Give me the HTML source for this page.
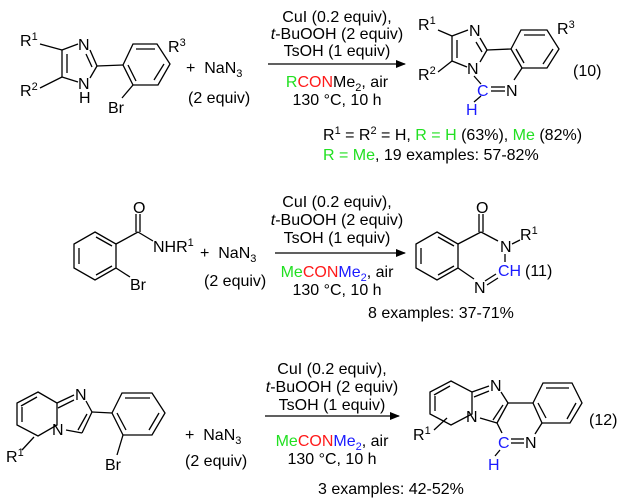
<!DOCTYPE html>
<html><head><style>
body{margin:0;background:#fff;}
svg{display:block;font-family:"Liberation Sans",Arial,sans-serif;}
text{font-size:16px;fill:#000;}
.s{font-size:11px;}
line,polyline,polygon{stroke:#000;stroke-width:1.3;fill:none;}
.g{fill:#22e022;} .r{fill:#ff1a1a;} .b{fill:#1a1aff;}
</style></head><body>
<svg width="630" height="498" viewBox="0 0 630 498">
<defs><marker id="a" markerWidth="10" markerHeight="8" refX="9" refY="4" orient="auto" markerUnits="userSpaceOnUse"><path d="M0,0 L10,4 L0,8 z" fill="#000"/></marker></defs>

<!-- ===== Reaction 10 ===== -->
<text x="20" y="46">R<tspan class="s" dy="-6">1</tspan></text>
<text x="20" y="96">R<tspan class="s" dy="-6">2</tspan></text>
<line x1="40" y1="44" x2="62" y2="50"/>
<line x1="40" y1="88" x2="62" y2="77"/>
<line x1="62" y1="50" x2="62" y2="77"/><line x1="67" y1="54" x2="67" y2="73"/>
<line x1="62" y1="50" x2="78" y2="44"/>
<text x="78" y="50">N</text>
<line x1="90" y1="50" x2="97" y2="66"/><line x1="86" y1="54" x2="92" y2="67"/>
<line x1="97" y1="66" x2="90" y2="78"/>
<line x1="62" y1="77" x2="78" y2="82"/>
<text x="78" y="89">N</text><text x="79" y="103">H</text>
<line x1="97" y1="66" x2="123" y2="65"/>
<polygon points="123,65 133,44 157,44 170,64 158,85 133,85"/>
<line x1="136" y1="49" x2="155" y2="49"/><line x1="164" y1="64" x2="154" y2="80"/>
<line x1="128" y1="65" x2="136" y2="81"/>
<line x1="133" y1="85" x2="122" y2="98"/>
<text x="108" y="113">Br</text>
<text x="168" y="52">R<tspan class="s" dy="-6">3</tspan></text>
<text x="186" y="73">+&#160;&#160;NaN<tspan class="s" dy="4">3</tspan></text>
<text x="188" y="103">(2 equiv)</text>
<text x="337" y="22" text-anchor="middle">CuI (0.2 equiv),</text>
<text x="337" y="39" text-anchor="middle"><tspan font-style="italic">t</tspan>-BuOOH (2 equiv)</text>
<text x="337" y="56" text-anchor="middle">TsOH (1 equiv)</text>
<line x1="268" y1="64" x2="405" y2="64" marker-end="url(#a)"/>
<text x="337" y="87" text-anchor="middle"><tspan class="g">R</tspan><tspan class="r">CON</tspan>Me<tspan class="s" dy="4">2</tspan><tspan dy="-4">, air</tspan></text>
<text x="337" y="105" text-anchor="middle">130 °C, 10 h</text>

<text x="418" y="30">R<tspan class="s" dy="-6">1</tspan></text>
<text x="418" y="80">R<tspan class="s" dy="-6">2</tspan></text>
<line x1="438" y1="30" x2="452" y2="36"/>
<line x1="438" y1="72" x2="452" y2="61"/>
<line x1="452" y1="36" x2="452" y2="61"/><line x1="457" y1="40" x2="457" y2="58"/>
<line x1="452" y1="36" x2="468" y2="30"/>
<text x="469" y="36">N</text>
<line x1="480" y1="38" x2="487" y2="50"/><line x1="476" y1="42" x2="482" y2="52"/>
<line x1="487" y1="50" x2="480" y2="62"/>
<line x1="452" y1="61" x2="467" y2="67"/>
<text x="467" y="74">N</text>
<line x1="474" y1="76" x2="481" y2="84"/>
<text x="477" y="96" class="b">C</text>
<line x1="491" y1="87" x2="505" y2="87"/><line x1="491" y1="91" x2="505" y2="91"/>
<text x="506" y="96">N</text>
<line x1="481" y1="96" x2="474" y2="102"/>
<text x="466" y="115" class="b">H</text>
<line x1="487" y1="50" x2="511" y2="49"/>
<polygon points="511,49 521,30 547,30 559,49 547,68 522,68"/>
<line x1="524" y1="35" x2="545" y2="35"/><line x1="553" y1="49" x2="543" y2="64"/>
<line x1="516" y1="49" x2="524" y2="63"/>
<line x1="522" y1="68" x2="514" y2="80"/>
<text x="557" y="34">R<tspan class="s" dy="-6">3</tspan></text>
<text x="573" y="76">(10)</text>
<text x="323" y="140">R<tspan class="s" dy="-6">1</tspan><tspan dy="6"> = R</tspan><tspan class="s" dy="-6">2</tspan><tspan dy="6"> = H, </tspan><tspan class="g">R = H</tspan> (63%), <tspan class="g">Me</tspan> (82%)</text>
<text x="323" y="160"><tspan class="g">R = Me</tspan>, 19 examples: 57-82%</text>

<!-- ===== Reaction 11 ===== -->
<polygon points="95,232 116,244 116,268 95,280 74,268 74,244"/>
<line x1="96" y1="237" x2="112" y2="246"/><line x1="112" y1="266" x2="96" y2="275"/><line x1="79" y1="248" x2="79" y2="264"/>
<line x1="116" y1="244" x2="138" y2="232"/>
<line x1="136" y1="232" x2="136" y2="214"/><line x1="140" y1="232" x2="140" y2="214"/>
<text x="133" y="213">O</text>
<line x1="138" y1="232" x2="153" y2="241"/>
<text x="153" y="252">NHR<tspan class="s" dy="-6">1</tspan></text>
<line x1="116" y1="268" x2="130" y2="277"/>
<text x="130" y="290">Br</text>
<text x="200" y="258">+&#160;&#160;NaN<tspan class="s" dy="4">3</tspan></text>
<text x="204" y="286">(2 equiv)</text>
<text x="337" y="207" text-anchor="middle">CuI (0.2 equiv),</text>
<text x="337" y="225" text-anchor="middle"><tspan font-style="italic">t</tspan>-BuOOH (2 equiv)</text>
<text x="337" y="243" text-anchor="middle">TsOH (1 equiv)</text>
<line x1="275" y1="253" x2="405" y2="253" marker-end="url(#a)"/>
<text x="337" y="277" text-anchor="middle"><tspan class="g">Me</tspan><tspan class="r">CON</tspan><tspan class="b">Me</tspan><tspan class="s b" dy="4">2</tspan><tspan dy="-4">, air</tspan></text>
<text x="337" y="295" text-anchor="middle">130 °C, 10 h</text>

<polygon points="437,232 458,244 458,268 437,280 416,268 416,244"/>
<line x1="438" y1="237" x2="454" y2="246"/><line x1="454" y1="266" x2="438" y2="275"/><line x1="421" y1="248" x2="421" y2="264"/>
<line x1="458" y1="244" x2="481" y2="232"/>
<line x1="479" y1="232" x2="479" y2="214"/><line x1="483" y1="232" x2="483" y2="214"/>
<text x="476" y="213">O</text>
<line x1="481" y1="232" x2="498" y2="241"/>
<text x="500" y="252">N</text>
<line x1="512" y1="244" x2="520" y2="240"/>
<text x="520" y="240">R<tspan class="s" dy="-6">1</tspan></text>
<line x1="505" y1="254" x2="505" y2="262"/>
<text x="498" y="276" class="b">CH</text>
<line x1="458" y1="268" x2="474" y2="279"/>
<text x="474" y="293">N</text>
<line x1="485" y1="281" x2="496" y2="274"/><line x1="487" y1="285" x2="498" y2="278"/>
<text x="525" y="276">(11)</text>
<text x="368" y="318">8 examples: 37-71%</text>

<!-- ===== Reaction 12 ===== -->
<polygon points="38,392 57,403 57,425 38,436 17,425 17,403"/>
<line x1="21" y1="406" x2="37" y2="397"/><line x1="22" y1="422" x2="22" y2="407"/>
<line x1="57" y1="403" x2="74" y2="395"/><line x1="58" y1="408" x2="74" y2="400"/>
<text x="75" y="400">N</text>
<line x1="86" y1="401" x2="92" y2="412"/>
<line x1="92" y1="412" x2="82" y2="433"/><line x1="87" y1="414" x2="78" y2="430"/>
<line x1="82" y1="433" x2="66" y2="430"/>
<text x="52" y="435" font-size="14">N</text>
<text x="6" y="462">R<tspan class="s" dy="-6">1</tspan></text>
<line x1="22" y1="450" x2="34" y2="437"/>
<line x1="92" y1="412" x2="112" y2="413"/>
<polygon points="112,413 122,393 152,393 165,413 152,435 123,435"/>
<line x1="125" y1="398" x2="150" y2="398"/><line x1="159" y1="413" x2="149" y2="430"/><line x1="117" y1="413" x2="126" y2="430"/>
<line x1="123" y1="435" x2="117" y2="455"/>
<text x="105" y="470">Br</text>
<text x="185" y="440">+&#160;&#160;NaN<tspan class="s" dy="4">3</tspan></text>
<text x="185" y="466">(2 equiv)</text>
<text x="332" y="374" text-anchor="middle">CuI (0.2 equiv),</text>
<text x="332" y="392" text-anchor="middle"><tspan font-style="italic">t</tspan>-BuOOH (2 equiv)</text>
<text x="332" y="410" text-anchor="middle">TsOH (1 equiv)</text>
<line x1="265" y1="416" x2="399" y2="416" marker-end="url(#a)"/>
<text x="332" y="446" text-anchor="middle"><tspan class="g">Me</tspan><tspan class="r">CON</tspan><tspan class="b">Me</tspan><tspan class="s b" dy="4">2</tspan><tspan dy="-4">, air</tspan></text>
<text x="332" y="464" text-anchor="middle">130 °C, 10 h</text>
<text x="318" y="494">3 examples: 42-52%</text>

<polygon points="451,381 472,392 472,414 451,425 430,414 430,392"/>
<line x1="434" y1="395" x2="450" y2="386"/><line x1="435" y1="411" x2="435" y2="396"/>
<line x1="472" y1="392" x2="489" y2="386"/><line x1="474" y1="397" x2="489" y2="391"/>
<text x="490" y="391">N</text>
<line x1="501" y1="392" x2="508" y2="403"/>
<line x1="508" y1="403" x2="497" y2="423"/><line x1="503" y1="405" x2="493" y2="420"/>
<line x1="497" y1="423" x2="480" y2="418"/>
<text x="466" y="422" font-size="14">N</text>
<text x="413" y="440">R<tspan class="s" dy="-6">1</tspan></text>
<line x1="434" y1="430" x2="447" y2="418"/>
<line x1="508" y1="403" x2="533" y2="403"/>
<polygon points="533,403 543,383 572,383 582,403 570,423 542,423"/>
<line x1="546" y1="388" x2="569" y2="388"/><line x1="576" y1="403" x2="567" y2="419"/><line x1="538" y1="403" x2="546" y2="418"/>
<line x1="542" y1="423" x2="535" y2="434"/>
<line x1="497" y1="423" x2="502" y2="433"/>
<text x="498" y="448" class="b">C</text>
<line x1="511" y1="439" x2="524" y2="439"/><line x1="511" y1="443" x2="524" y2="443"/>
<text x="525" y="448">N</text>
<line x1="500" y1="450" x2="495" y2="456"/>
<text x="488" y="470" class="b">H</text>
<text x="589" y="425">(12)</text>
</svg>
</body></html>
